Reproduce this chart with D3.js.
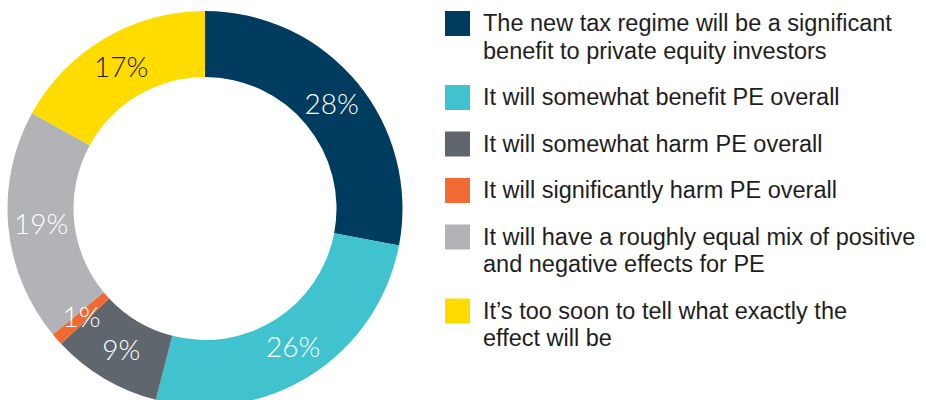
<!DOCTYPE html>
<html>
<head>
<meta charset="utf-8">
<script src="https://cdn.jsdelivr.net/npm/d3@7"></script>
<style>
  html, body { margin: 0; padding: 0; background: #ffffff; }
  svg { display: block; }
</style>
</head>
<body>
<svg id="chart" width="926" height="400"></svg>
<script>
// Survey responses on how the new tax regime affects private equity
const categories = [
  "The new tax regime will be a significant\nbenefit to private equity investors",
  "It will somewhat benefit PE overall",
  "It will somewhat harm PE overall",
  "It will significantly harm PE overall",
  "It will have a roughly equal mix of positive\nand negative effects for PE",
  "It\u2019s too soon to tell what exactly the\neffect will be"
];
const shares = [28, 26, 9, 1, 19, 17];
const sliceColors = ["#003c5f", "#41c3cf", "#5f666e", "#f26a33", "#b1b3b6", "#ffdc00"];
const labelColors = ["#ffffff", "#ffffff", "#ffffff", "#ffffff", "#ffffff", "#1a1a1a"];

const svg = d3.select("#chart");

// Donut
const cx = 205, cy = 208.5;
const outerR = 197.5, innerR = 131.5;

const pie = d3.pie().sort(null).value(d => d.value);
const arcs = pie(shares.map((v, i) => ({ value: v, i })));
const arc = d3.arc().innerRadius(innerR).outerRadius(outerR);

const donut = svg.append("g").attr("transform", `translate(${cx},${cy})`);

donut.selectAll("path")
  .data(arcs)
  .join("path")
  .attr("d", arc)
  .attr("fill", d => sliceColors[d.data.i]);

donut.selectAll("text")
  .data(arcs)
  .join("text")
  .attr("transform", d => `translate(${arc.centroid(d)})`)
  .attr("text-anchor", "middle")
  .attr("dy", "0.36em")
  .attr("font-family", "Lato, 'Open Sans', sans-serif")
  .attr("font-weight", 300)
  .attr("font-size", 28)
  .attr("fill", d => labelColors[d.data.i])
  .text(d => d.data.value + "%");

// Legend
const legendX = 445, textX = 483;
const sw = 25, lineH = 27.5, gap = 19;
const legend = svg.append("g");
let y = 11;
categories.forEach((label, i) => {
  const lines = label.split("\n");
  const g = legend.append("g").attr("transform", `translate(0,${y})`);
  g.append("rect")
    .attr("x", legendX).attr("y", 0)
    .attr("width", sw).attr("height", sw)
    .attr("fill", sliceColors[i]);
  const t = g.append("text")
    .attr("x", textX).attr("y", 20)
    .attr("font-family", "'Liberation Sans', Arial, sans-serif")
    .attr("font-size", 23.5)
    .attr("fill", "#1e1e1e");
  lines.forEach((ln, j) => {
    t.append("tspan").attr("x", textX).attr("dy", j === 0 ? 0 : lineH).text(ln);
  });
  y += lines.length * lineH + gap;
});
</script>
</body>
</html>
